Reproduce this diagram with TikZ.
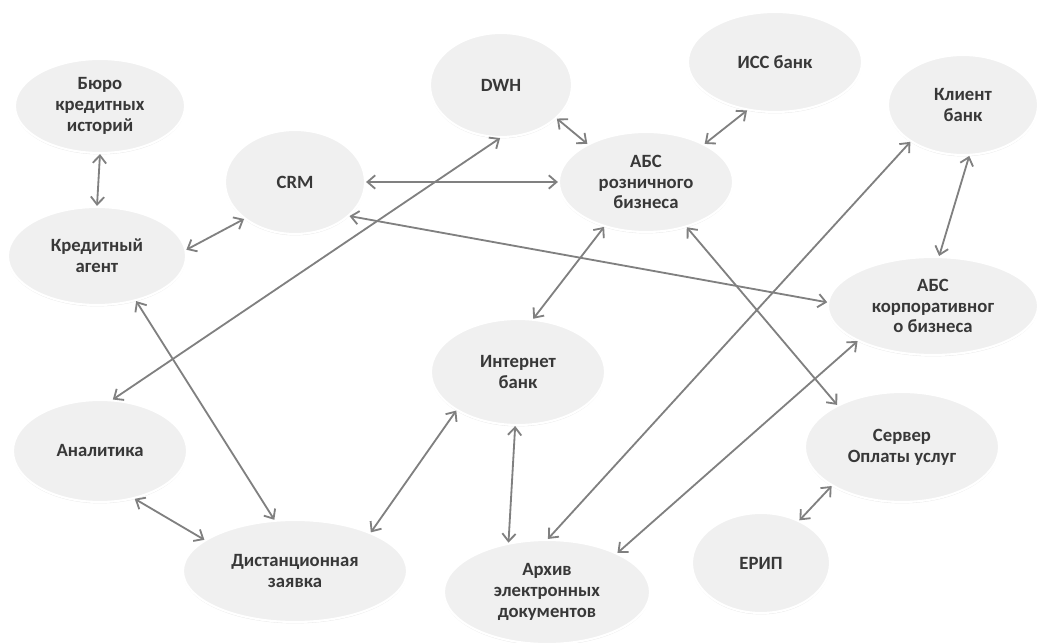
\documentclass[tikz,border=0pt]{standalone}
\usepackage{fontspec}
\setmainfont{Carlito}
\usetikzlibrary{arrows.meta,shapes.geometric,shadows}

\begin{document}
\begin{tikzpicture}[x=0.025cm, y=-0.025cm,
    sys/.style={ellipse, fill=black!6, draw=white, line width=1.5pt, text=black!78,
        font=\fontsize{13.3}{14.8}\selectfont\bfseries, align=center, inner sep=0pt,
        drop shadow={opacity=0.18, shadow xshift=0pt, shadow yshift=-1pt, fill=black!50}},
    link/.style={{Straight Barb[length=5.5pt,width=9.5pt]}-{Straight Barb[length=5.5pt,width=9.5pt]},
        draw=black!50, line width=1.3pt}]
    % Page area in pixels of the original sketch (y runs down)
    \useasboundingbox (0,0) rectangle (1040,643);

    % Systems, left column
    \node[sys, minimum width=4.25cm, minimum height=2.35cm] (buro) at (100,106) {Бюро\\кредитных\\историй};
    \node[sys, minimum width=4.45cm, minimum height=2.45cm] (kred) at (97,256) {Кредитный\\агент};
    \node[sys, minimum width=4.35cm, minimum height=2.55cm] (anal) at (100,451) {Аналитика};
    \node[sys, minimum width=5.6cm, minimum height=2.55cm] (dist) at (295,571) {Дистанционная\\заявка};

    % Systems, middle
    \node[sys, minimum width=3.5cm, minimum height=2.6cm] (crm) at (295,182) {CRM};
    \node[sys, minimum width=3.55cm, minimum height=2.6cm] (dwh) at (501,85) {DWH};
    \node[sys, minimum width=4.35cm, minimum height=2.5cm] (absr) at (646,182) {АБС\\розничного\\бизнеса};
    \node[sys, minimum width=4.35cm, minimum height=2.65cm] (inet) at (518,372) {Интернет\\банк};
    \node[sys, minimum width=5.15cm, minimum height=2.6cm] (arch) at (547,592) {Архив\\электронных\\документов};

    % Systems, right
    \node[sys, minimum width=4.35cm, minimum height=2.5cm] (iss) at (775,62) {ИСС банк};
    \node[sys, minimum width=3.75cm, minimum height=2.5cm] (klient) at (963,105) {Клиент\\банк};
    \node[sys, minimum width=5.25cm, minimum height=2.45cm] (absk) at (933,306) {АБС\\корпоративног\\о бизнеса};
    \node[sys, minimum width=4.85cm, minimum height=2.75cm] (server) at (902,447) {Сервер\\Оплаты услуг};
    \node[sys, minimum width=3.45cm, minimum height=2.5cm] (erip) at (761,563) {ЕРИП};

    % Links
    \draw[link] (buro.-90) -- (kred.90);
    \draw[link] (kred.4) -- (crm.-144);
    \draw[link] (crm.0) -- (absr.180);
    \draw[link] (dwh.-31) -- (absr.147);
    \draw[link] (iss.-120) -- (absr.33);
    \draw[link] (dwh.-91) -- (anal.76);
    \draw[link] (crm.-32) -- (absk.178);
    \draw[link] (inet.74) -- (absr.-133);
    \draw[link] (kred.-49) -- (dist.112);
    \draw[link] (anal.-54) -- (dist.161);
    \draw[link] (dist.27) -- (inet.-148);
    \draw[link] (inet.-93) -- (arch.128);
    \draw[link] (arch.89) -- (klient.-145);
    \draw[link] (arch.29) -- (absk.-155);
    \draw[link] (absr.-48) -- (server.147);
    \draw[link] (klient.-83) -- (absk.83);
    \draw[link] (server.-151) -- (erip.48);
\end{tikzpicture}
\end{document}
